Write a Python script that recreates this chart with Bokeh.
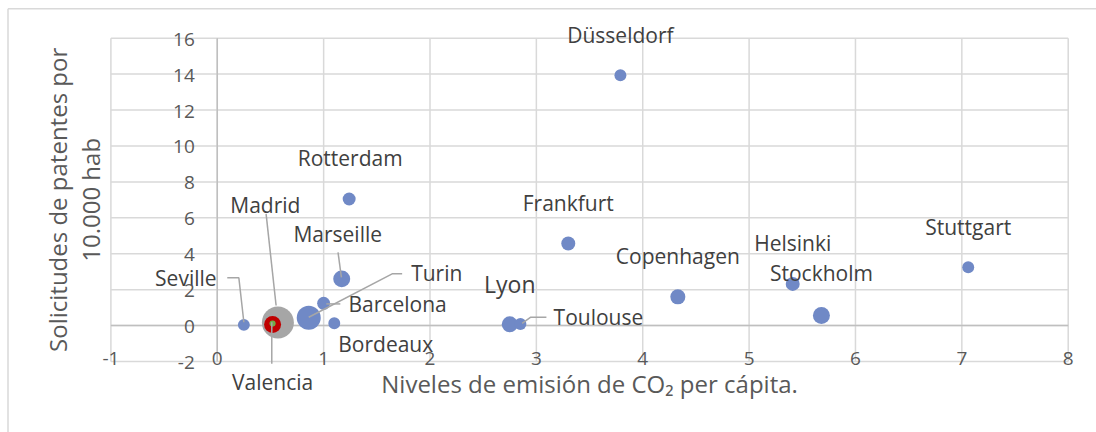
import math
from bokeh.plotting import figure
from bokeh.models import ColumnDataSource, LabelSet, Label, Range1d
from bokeh.core.properties import value
from bokeh.embed import file_html
from bokeh.resources import INLINE

# ---------------- data ----------------
ciudades = ["Düsseldorf", "Rotterdam", "Frankfurt", "Stuttgart", "Helsinki",
            "Stockholm", "Copenhagen", "Lyon", "Toulouse", "Marseille",
            "Turin", "Barcelona", "Bordeaux", "Seville", "Madrid", "Valencia", ""]
co2_per_capita = [3.79, 1.24, 3.30, 7.06, 5.41,
                  5.68, 4.33, 2.75, 2.85, 1.17,
                  0.86, 1.00, 1.10, 0.25, 0.57, 0.52, 0.52]
patentes_10000 = [13.94, 7.05, 4.57, 3.25, 2.32,
                  0.56, 1.60, 0.07, 0.09, 2.60,
                  0.43, 1.24, 0.13, 0.04, 0.17, 0.06, 0.11]
tamano_burbuja = [0.46, 0.54, 0.63, 0.46, 0.63,
                  0.93, 0.73, 0.83, 0.46, 0.93,
                  1.86, 0.54, 0.46, 0.46, 3.30, 0.93, 0.12]
serie = ["A"] * 14 + ["B", "C", "D"]

x_ticks = [-1, 0, 1, 2, 3, 4, 5, 6, 7, 8]
y_ticks = [-2, 0, 2, 4, 6, 8, 10, 12, 14, 16]
x_title = "Niveles de emisión de CO₂ per cápita."
y_title = ["Solicitudes de patentes por", "10.000 hab"]

# ---------------- styles / layout ----------------
colores = {"A": "#7089c6", "B": "#a6a6a6", "C": "#c00000", "D": "#70ad47"}
MAX_DIAM = 32

# label offsets in screen px (dx right, dy up), per city
label_off = {
    "Düsseldorf": (0, 40), "Rotterdam": (1, 41), "Frankfurt": (0, 40.5),
    "Stuttgart": (0, 40), "Helsinki": (0, 41), "Stockholm": (0, 43),
    "Copenhagen": (0, 41), "Lyon": (0, 40), "Toulouse": (78, 7),
    "Marseille": (-4, 45), "Turin": (128, 44.5), "Barcelona": (74, -0.5),
    "Bordeaux": (51.5, -20.5), "Seville": (-58, 47), "Madrid": (-12.5, 118),
    "Valencia": (0, -57.5),
}
label_big = {"Lyon"}
# leader lines in screen px offsets from the point (dx right, dy down)
lideres = {
    "Seville": [(-16.6, -47), (-5, -47), (0, -2.6)],
    "Madrid": [(-11.8, -108.7), (-1.8, -17)],
    "Valencia": [(-0.8, 39.3), (-0.8, -2.3)],
    "Marseille": [(-3.7, -26.6), (-0.3, -1.6)],
    "Turin": [(93.4, -44), (83.4, -44), (0, -0.6)],
    "Barcelona": [(16.7, 0.6), (2.7, 0.6)],
    "Toulouse": [(26, -6.6), (10, -6.6), (1.7, -0.6)],
}

W, H = 1096, 432
# plot area inside the canvas (px)
PL, PR, PT, PB = 110.4, 1067.7, 37.7, 361.0
CL, CT = 7.5, 8.3   # chart-area border (left, top)
XMIN, XMAX, YMIN, YMAX = x_ticks[0], x_ticks[-1], y_ticks[0], y_ticks[-1]
PX_X = (PR - PL) / (XMAX - XMIN)
PX_Y = (PB - PT) / (YMAX - YMIN)
XLO, XHI = XMIN - PL / PX_X, XMAX + (W - PR) / PX_X
YLO, YHI = YMIN - (H - PB) / PX_Y, YMAX + PT / PX_Y

FONT = "Open Sans"
GRID = "#d9d9d9"
AXIS = "#bfbfbf"
TXT_TICK = "#595959"
TXT_LAB = "#404040"

p = figure(width=W, height=H, x_range=Range1d(XLO, XHI), y_range=Range1d(YLO, YHI),
           output_backend="svg", toolbar_location=None,
           x_axis_location=None, y_axis_location=None, min_border=0)
p.grid.visible = False
p.outline_line_color = None
p.background_fill_color = "white"
p.border_fill_color = "white"

# chart-area border (top + left; right/bottom fall outside the picture)
bx = XMIN - (PL - CL) / PX_X
by = YMAX + (PT - CT) / PX_Y
p.segment(x0=[bx, bx], y0=[by, by], x1=[XHI, bx], y1=[by, YLO],
          line_color=GRID, line_width=1.5)

# gridlines
p.segment(x0=x_ticks, y0=[YMIN] * len(x_ticks), x1=x_ticks, y1=[YMAX] * len(x_ticks),
          line_color=GRID, line_width=1.5)
p.segment(x0=[XMIN] * len(y_ticks), y0=y_ticks, x1=[XMAX] * len(y_ticks), y1=y_ticks,
          line_color=GRID, line_width=1.5)
# axis lines at zero
p.segment(x0=[0, XMIN], y0=[YMIN, 0], x1=[0, XMAX], y1=[YMAX, 0],
          line_color=AXIS, line_width=1.5)

vmax = max(tamano_burbuja)
for s in ["A", "B", "C", "D"]:
    idx = [i for i, k in enumerate(serie) if k == s]
    src = ColumnDataSource(dict(
        x=[co2_per_capita[i] for i in idx],
        y=[patentes_10000[i] for i in idx],
        d=[MAX_DIAM * math.sqrt(tamano_burbuja[i] / vmax) for i in idx],
    ))
    p.scatter("x", "y", size="d", source=src, fill_color=colores[s],
              line_color=None, fill_alpha=1.0)

# leader lines
xs, ys = [], []
for i, c in enumerate(ciudades):
    if c in lideres:
        xs.append([co2_per_capita[i] + dx / PX_X for dx, dy in lideres[c]])
        ys.append([patentes_10000[i] - dy / PX_Y for dx, dy in lideres[c]])
p.multi_line(xs, ys, line_color="#a6a6a6", line_width=1.5)

# data labels
lab = dict(x=[], y=[], t=[], dx=[], dy=[], fs=[])
for i, c in enumerate(ciudades):
    if not c:
        continue
    dx, dy = label_off[c]
    lab["x"].append(co2_per_capita[i]); lab["y"].append(patentes_10000[i])
    lab["t"].append(c); lab["dx"].append(dx); lab["dy"].append(dy)
    lab["fs"].append("23px" if c in label_big else "21px")
p.add_layout(LabelSet(x="x", y="y", text="t", x_offset="dx", y_offset="dy",
                      source=ColumnDataSource(lab), text_font=value(FONT),
                      text_font_size="fs", text_color=TXT_LAB,
                      text_align="center", text_baseline="middle"))

# tick labels
p.add_layout(LabelSet(x="x", y="y", text="t", source=ColumnDataSource(dict(
    x=[0] * len(y_ticks), y=y_ticks, t=[str(v) for v in y_ticks])),
    x_offset=-22.5, y_offset=-1, text_font=value(FONT), text_font_size="19px",
    text_color=TXT_TICK, text_align="right", text_baseline="middle"))
p.add_layout(LabelSet(x="x", y="y", text="t", source=ColumnDataSource(dict(
    x=x_ticks, y=[YMIN] * len(x_ticks), t=[str(v) for v in x_ticks])),
    x_offset=0, y_offset=3, text_font=value(FONT), text_font_size="19px",
    text_color=TXT_TICK, text_align="center", text_baseline="middle"))

# axis titles
p.add_layout(Label(x=(XMIN + XMAX) / 2, y=YMIN, y_offset=-22, text=x_title,
                   text_font=FONT, text_font_size="24px", text_color=TXT_TICK,
                   text_align="center", text_baseline="middle"))
p.add_layout(Label(x=XMIN, y=(YMIN + YMAX) / 2, x_offset=-53.5, text=y_title[0],
                   angle=math.pi / 2, text_font=FONT, text_font_size="24px",
                   text_color=TXT_TICK, text_align="center", text_baseline="middle"))
p.add_layout(Label(x=XMIN, y=(YMIN + YMAX) / 2, x_offset=-20, text=y_title[1],
                   angle=math.pi / 2, text_font=FONT, text_font_size="24px",
                   text_color=TXT_TICK, text_align="center", text_baseline="middle"))

open("out.html", "w").write(file_html(p, INLINE))
